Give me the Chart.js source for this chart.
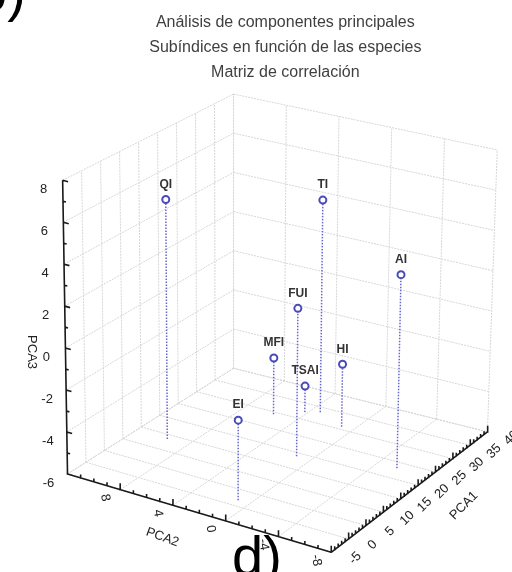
<!DOCTYPE html>
<html>
<head>
<meta charset="utf-8">
<script src="https://cdn.jsdelivr.net/npm/chart.js@4.4.0/dist/chart.umd.min.js"></script>
<style>
  html, body { margin: 0; padding: 0; background: #fff; }
  #wrap { position: relative; width: 512px; height: 572px; }
</style>
</head>
<body>
<div id="wrap"><canvas id="pca-canvas"></canvas></div>
<script>
// dados
var etiquetas = ['QI', 'TI', 'AI', 'FUI', 'MFI', 'TSAI', 'HI', 'EI'];
var pca1 = [13.6, 33.4, 23.2, 18.9, 29.3, 32.3, 30.8, 1.8];
var pca2 = [9.6, 3.3, -5.5, 1.1, 5.8, 4.2, 0.9, 0.9];
var pca3 = [5.7, 4.6, 3.4, 1.2, -3.2, -4.7, -2.9, -2.2];

var ticksPca1 = [-5, 0, 5, 10, 15, 20, 25, 30, 35, 40];
var ticksPca2 = [12, 8, 4, 0, -4, -8];
var ticksPca3 = [-6, -4, -2, 0, 2, 4, 6, 8];

var titulos = ['Análisis de componentes principales', 'Subíndices en función de las especies', 'Matriz de correlación'];

var minA = -5, maxA = 40, minB = -8, maxB = 12, minC = -6, maxC = 8;

// cantos da caixa na tela (base e topo)
var base = { p00: [63, 478], p10: [233, 370], p11: [493, 435], p01: [333, 558] };
var topo = { p00: [58, 178], p10: [233, 90], p11: [503, 147], p01: [336, 250] };

function projetar(a, b, c) {
    var u = (a - minA) / (maxA - minA);
    var v = (maxB - b) / (maxB - minB);
    var w = (c - minC) / (maxC - minC);
    function bil(q, k) {
        return q.p00[k] * (1 - u) * (1 - v) + q.p10[k] * u * (1 - v) + q.p11[k] * u * v + q.p01[k] * (1 - u) * v;
    }
    var bx = bil(base, 0), by = bil(base, 1);
    var tx = bil(topo, 0), ty = bil(topo, 1);
    return { x: bx + (tx - bx) * w, y: by + (ty - by) * w };
}

function segmento(lista, p, q) {
    lista.push(projetar(p[0], p[1], p[2]), projetar(q[0], q[1], q[2]), { x: NaN, y: NaN });
}

// grade das paredes e do chão
var grade = [];
ticksPca1.forEach(a => segmento(grade, [a, maxB, minC], [a, maxB, maxC]));
ticksPca3.forEach(c => segmento(grade, [minA, maxB, c], [maxA, maxB, c]));
ticksPca2.forEach(b => segmento(grade, [maxA, b, minC], [maxA, b, maxC]));
ticksPca3.forEach(c => segmento(grade, [maxA, maxB, c], [maxA, minB, c]));
ticksPca1.forEach(a => segmento(grade, [a, maxB, minC], [a, minB, minC]));
ticksPca2.forEach(b => segmento(grade, [minA, b, minC], [maxA, b, minC]));

// eixos e marcas
var eixos = [];
segmento(eixos, [minA, maxB, minC], [minA, maxB, maxC]);
segmento(eixos, [minA, maxB, minC], [minA, minB, minC]);
segmento(eixos, [minA, minB, minC], [maxA, minB, minC]);
for (var c = minC; c <= maxC; c++) {
    segmento(eixos, [minA, maxB, c], [minA, maxB - (c % 2 === 0 ? 0.4 : 0.22), c]);
}
for (var b = minB; b <= maxB; b++) {
    segmento(eixos, [minA, b, minC], [minA, b, minC + (b % 4 === 0 ? 0.3 : 0.16)]);
}
for (var a = minA; a <= maxA; a++) {
    segmento(eixos, [a, minB, minC], [a, minB, minC + (a % 5 === 0 ? 0.3 : 0.16)]);
}

// hastes até o chão
var hastes = [];
etiquetas.forEach((e, i) => segmento(hastes, [pca1[i], pca2[i], minC], [pca1[i], pca2[i], pca3[i]]));

var pontos = etiquetas.map((e, i) => projetar(pca1[i], pca2[i], pca3[i]));

var textos = {
    id: 'textos',
    afterDatasetsDraw(chart) {
        var g = chart.ctx;
        var sx = chart.scales.x, sy = chart.scales.y;

        function escrever(txt, p, dx, dy, rot, fonte, cor) {
            g.save();
            g.translate(sx.getPixelForValue(p.x) + dx, sy.getPixelForValue(p.y) + dy);
            g.rotate(rot);
            g.font = fonte;
            g.fillStyle = cor;
            g.textAlign = 'center';
            g.textBaseline = 'middle';
            g.fillText(txt, 0, 0);
            g.restore();
        }

        // títulos
        titulos.forEach((t, i) => escrever(t, { x: 286, y: 17 + i * 25.5 }, 0, 0, 0, '16px "Liberation Sans", Arial, sans-serif', '#3f3f3f'));

        // rótulos dos pontos
        pontos.forEach((p, i) => escrever(etiquetas[i], p, 0, -15, 0, 'bold 12px "Liberation Sans", Arial, sans-serif', '#333'));

        var fTick = '13px "Liberation Sans", Arial, sans-serif';
        ticksPca3.forEach(c => escrever(String(c), projetar(minA, maxB, c), -19, 9, 0, fTick, '#222'));
        ticksPca2.filter(b => b !== maxB).forEach(b => escrever(String(b), projetar(minA, b, minC), -15, 8, 1.4, fTick, '#222'));
        ticksPca1.forEach(a => escrever(String(a), projetar(a, minB, minC), 24, 6, -Math.PI / 4, fTick, '#222'));

        var fEixo = '13px "Liberation Sans", Arial, sans-serif';
        escrever('PCA3', projetar(minA, maxB, 0), -34, 4, Math.PI / 2, fEixo, '#222');
        escrever('PCA2', projetar(minA, 4.5, minC), -4, 34, 0.35, fEixo, '#222');
        escrever('PCA1', projetar(24, minB, minC), 32, 31, -Math.PI / 4, fEixo, '#222');

        // letras dos painéis vizinhos
        g.save();
        g.font = '56px "Liberation Sans", Arial, sans-serif';
        g.fillStyle = '#000';
        g.textAlign = 'left';
        g.textBaseline = 'alphabetic';
        g.fillText('b)', -24, 10);
        g.fillText('d)', 232, 575);
        g.restore();
    }
};

var pcaCanvas = document.getElementById('pca-canvas').getContext('2d');

var pcaChart = new Chart(pcaCanvas, {
    type: 'scatter',
    data: {
        datasets: [
            {
                data: pontos,
                pointStyle: 'circle',
                pointRadius: 3.5,
                pointBorderWidth: 2,
                pointBorderColor: '#4a4ab8',
                pointBackgroundColor: '#ffffff',
                showLine: false,
                order: 0
            },
            {
                data: hastes,
                showLine: true,
                spanGaps: false,
                borderColor: '#6666cc',
                borderWidth: 1.5,
                borderDash: [1.5, 1.5],
                pointRadius: 0,
                order: 1
            },
            {
                data: eixos,
                showLine: true,
                spanGaps: false,
                borderColor: '#1a1a1a',
                borderWidth: 1.6,
                pointRadius: 0,
                order: 2
            },
            {
                data: grade,
                showLine: true,
                spanGaps: false,
                borderColor: '#d6d6d6',
                borderWidth: 1,
                borderDash: [2, 1],
                pointRadius: 0,
                order: 3
            }
        ]
    },
    options: {
        responsive: true,
        maintainAspectRatio: false,
        animation: false,
        layout: { padding: 0 },
        scales: {
            x: { type: 'linear', display: false, min: 0, max: 512 },
            y: { type: 'linear', display: false, min: 0, max: 572, reverse: true }
        },
        plugins: {
            legend: { display: false },
            tooltip: { enabled: false },
            title: { display: false }
        }
    },
    plugins: [textos]
});
</script>
</body>
</html>
